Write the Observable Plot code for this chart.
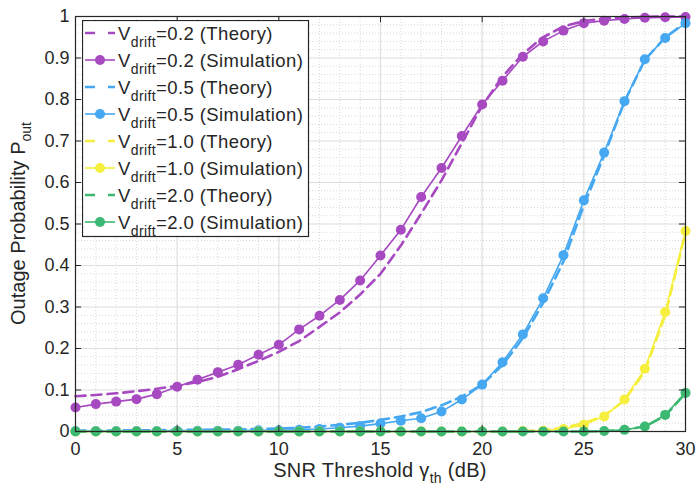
<!DOCTYPE html>
<html><head><meta charset="utf-8">
<script src="https://cdn.jsdelivr.net/npm/d3@7"></script>
<script src="https://cdn.jsdelivr.net/npm/@observablehq/plot@0.6"></script>
<style>
body{margin:0;background:#fff;font-family:"Liberation Sans",Arial,Helvetica,sans-serif;}
#wrap{position:relative;width:696px;height:487px;}
#legend{position:absolute;left:82px;top:20px;}
</style></head>
<body><div id="wrap"></div>
<script>
const snr = [0,1,2,3,4,5,6,7,8,9,10,11,12,13,14,15,16,17,18,19,20,21,22,23,24,25,26,27,28,29,30];
const p02Theory = [0.085,0.088,0.092,0.097,0.103,0.110,0.119,0.132,0.150,0.170,0.192,0.218,0.252,0.287,0.330,0.380,0.448,0.525,0.605,0.695,0.785,0.855,0.910,0.950,0.976,0.989,0.995,0.998,0.999,1.0,1.0];
const p02Sim    = [0.058,0.066,0.072,0.078,0.090,0.108,0.125,0.143,0.161,0.185,0.209,0.246,0.279,0.317,0.364,0.424,0.486,0.565,0.635,0.712,0.788,0.845,0.903,0.940,0.966,0.984,0.990,0.994,0.997,0.998,0.999];
const p05Theory = [0.002,0.002,0.003,0.003,0.003,0.004,0.004,0.005,0.005,0.006,0.007,0.009,0.012,0.016,0.021,0.028,0.036,0.047,0.063,0.084,0.113,0.160,0.225,0.310,0.410,0.545,0.665,0.795,0.895,0.950,0.985];
const p05Sim    = [0.001,0.001,0.001,0.001,0.001,0.002,0.002,0.002,0.002,0.003,0.003,0.004,0.006,0.009,0.013,0.019,0.026,0.032,0.048,0.077,0.113,0.167,0.234,0.321,0.425,0.557,0.672,0.796,0.897,0.948,0.984];
const p10Theory = [0,0,0,0,0,0,0,0,0,0,0,0,0,0,0,0,0,0,0,0,0,0,0.001,0.003,0.009,0.020,0.038,0.075,0.145,0.280,0.480];
const p10Sim    = [0,0,0,0,0,0,0,0,0,0,0,0,0,0,0,0,0,0,0,0,0,0,0.001,0.002,0.006,0.016,0.036,0.077,0.151,0.288,0.483];
const p20Theory = [0,0,0,0,0,0,0,0,0,0,0,0,0,0,0,0,0,0,0,0,0,0,0,0,0,0,0.001,0.004,0.012,0.038,0.092];
const p20Sim    = [0,0,0,0,0,0,0,0,0,0,0,0,0,0,0,0,0,0,0,0,0,0,0,0,0,0,0.001,0.004,0.012,0.040,0.093];
const vdrift = ["0.2","0.5","1.0","2.0"];
const colors = ["#A749C1","#45A8F0","#F6EF3E","#3BB872"];
const xTicks = [0,5,10,15,20,25,30];
const yTicks = [0,0.1,0.2,0.3,0.4,0.5,0.6,0.7,0.8,0.9,1];
const xMinor = snr.filter(v => v % 5 !== 0);
const yMinor = d3.range(0, 51).map(i => i / 50).filter((v, i) => i % 5 !== 0);

const theory = [p02Theory, p05Theory, p10Theory, p20Theory];
const sim = [p02Sim, p05Sim, p10Sim, p20Sim];
const font = '"Liberation Sans",Arial,Helvetica,sans-serif';

const seriesMarks = [];
vdrift.forEach((v, k) => {
  const tData = snr.map((x, i) => ({x, y: theory[k][i]}));
  const sData = snr.map((x, i) => ({x, y: sim[k][i]}));
  seriesMarks.push(Plot.line(tData, {x: "x", y: "y", stroke: colors[k], strokeWidth: 2.6, strokeDasharray: "10,6"}));
  seriesMarks.push(Plot.line(sData, {x: "x", y: "y", stroke: colors[k], strokeWidth: 1.6}));
  seriesMarks.push(Plot.dot(sData, {x: "x", y: "y", r: 5, fill: colors[k], stroke: "none"}));
});

const chart = Plot.plot({
  width: 696, height: 487,
  marginLeft: 75, marginRight: 11, marginTop: 16, marginBottom: 56,
  style: {fontFamily: font, fontSize: "18px", color: "#262626", background: "#fff"},
  x: {domain: [0, 30]},
  y: {domain: [0, 1]},
  marks: [
    Plot.ruleX(xMinor, {stroke: "#d9d9d9", strokeDasharray: "1,2", strokeWidth: 1}),
    Plot.ruleY(yMinor, {stroke: "#d9d9d9", strokeDasharray: "1,2", strokeWidth: 1}),
    Plot.ruleX(xTicks, {stroke: "#dedede", strokeWidth: 1.2}),
    Plot.ruleY(yTicks, {stroke: "#dedede", strokeWidth: 1.2}),
    ...seriesMarks,
    Plot.ruleX(xTicks, {y1: 0, y2: 0.015, stroke: "#262626"}),
    Plot.ruleX(xTicks, {y1: 0.985, y2: 1, stroke: "#262626"}),
    Plot.ruleY(yTicks, {x1: 0, x2: 0.3, stroke: "#262626"}),
    Plot.ruleY(yTicks, {x1: 29.7, x2: 30, stroke: "#262626"}),
    Plot.frame({stroke: "#262626", strokeWidth: 1.2}),
    Plot.axisX({ticks: xTicks, tickSize: 0, tickPadding: 11, label: null, fontSize: 18}),
    Plot.axisY({ticks: yTicks, tickSize: 0, tickPadding: 6, label: null, fontSize: 18,
      tickFormat: d => d === 0 ? "0" : d === 1 ? "1" : d.toFixed(1)})
  ]
});
document.getElementById("wrap").appendChild(chart);

// axis titles with subscripts
const svg = d3.select(chart);
const xs = chart.scale("x"), ys = chart.scale("y");
const xl = svg.append("text").attr("x", xs.apply(15)).attr("y", 477).attr("text-anchor", "middle")
  .attr("font-size", 20).attr("fill", "#262626").attr("font-family", font).attr("letter-spacing", 0.3);
xl.append("tspan").text("SNR Threshold γ");
xl.append("tspan").attr("font-size", 14).attr("dy", 6).text("th");
xl.append("tspan").attr("dy", -6).text(" (dB)");
const yl = svg.append("text").attr("transform", `translate(25,${ys.apply(0.5)}) rotate(-90)`).attr("text-anchor", "middle")
  .attr("font-size", 20).attr("fill", "#262626").attr("font-family", font);
yl.append("tspan").text("Outage Probability P");
yl.append("tspan").attr("font-size", 14).attr("dy", 6).text("out");

// legend
const lg = d3.select("#wrap").append("svg").attr("id", "legend").attr("width", 228).attr("height", 218);
lg.append("rect").attr("x", 0.5).attr("y", 0.5).attr("width", 226).attr("height", 216).attr("fill", "#fff").attr("stroke", "#262626").attr("stroke-width", 1.2);
const entries = [];
vdrift.forEach((v, k) => {
  entries.push({v, kind: "Theory", c: colors[k]});
  entries.push({v, kind: "Simulation", c: colors[k]});
});
entries.forEach((e, i) => {
  const cy = 13 + 27 * i;
  if (e.kind === "Theory") {
    lg.append("line").attr("x1", 3).attr("x2", 33).attr("y1", cy).attr("y2", cy).attr("stroke", e.c).attr("stroke-width", 2.6).attr("stroke-dasharray", "10,13");
  } else {
    lg.append("line").attr("x1", 3).attr("x2", 33).attr("y1", cy).attr("y2", cy).attr("stroke", e.c).attr("stroke-width", 1.6);
    lg.append("circle").attr("cx", 18).attr("cy", cy).attr("r", 5).attr("fill", e.c);
  }
  const t = lg.append("text").attr("x", 36).attr("y", cy + 6.5).attr("font-size", 18.5).attr("fill", "#262626")
    .attr("font-family", font).attr("letter-spacing", 0.4);
  t.append("tspan").text("V");
  t.append("tspan").attr("font-size", 14).attr("dy", 7).text("drift");
  t.append("tspan").attr("dy", -7).text(`=${e.v} (${e.kind})`);
});
</script>
</body></html>
